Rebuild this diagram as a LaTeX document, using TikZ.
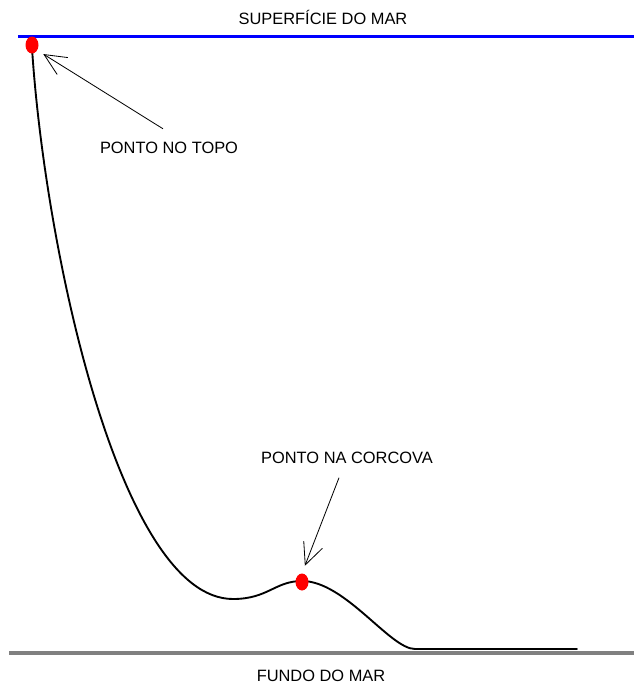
\documentclass[tikz,border=0pt]{standalone}
\usepackage{fontspec}
\setmainfont{Liberation Sans}
\usetikzlibrary{positioning,arrows.meta,shapes.geometric}

\begin{document}
\begin{tikzpicture}[
    x=0.03cm,y=-0.03cm,
    label/.style={font=\fontsize{14}{16}\selectfont,inner sep=1pt},
    dot/.style={draw=none,fill=red,ellipse,minimum width=13*0.03cm,minimum height=17*0.03cm,inner sep=0pt},
    arrow/.style={-{Straight Barb[length=6.5mm,width=6mm]},line width=0.7pt},
    cable/.style={line width=1.6pt,line cap=round},
]
\useasboundingbox (0,0) rectangle (634,688);
% sea surface and sea floor
\node[label] (surf) at (323,17) {SUPERFÍCIE DO MAR};
\coordinate (surfL) at (18,36.5);
\coordinate (surfR) at (634,36.5);
\draw[blue,line width=2.6pt] (surfL) -- (surfR);
\coordinate (floorL) at (9,653);
\coordinate (floorR) at (634,653);
\draw[gray,line width=2.6pt] (floorL) -- (floorR);
\node[label] (floor) at (321,676) {FUNDO DO MAR};
% the line from top to the bottom
\coordinate (low) at (233,599);
\coordinate (land) at (415,649);
\coordinate (end) at (577,649);
\draw[cable] (32,48) .. controls (45,250) and (120,599) .. (low)
  .. controls (268,599) and (275,581) .. (302,581)
  .. controls (345,581) and (390,649) .. (land) -- (end);
% the two points
\node[dot] (topo) at (32,45) {};
\node[dot] (corcova) at (302,582) {};
\node[label] (ltopo) at (169,148) {PONTO NO TOPO};
\node[label] (lcorcova) at (347,457.5) {PONTO NA CORCOVA};
\coordinate[above left=12*0.03cm and 6*0.03cm of ltopo.north] (a1);
\coordinate[below left=13*0.03cm and 8*0.03cm of lcorcova.south] (a2);
\draw[arrow,shorten >=7*0.03cm] (a1) -- (topo.-45);
\draw[arrow,shorten >=8*0.03cm] (a2) -- (corcova.north);
\end{tikzpicture}
\end{document}
